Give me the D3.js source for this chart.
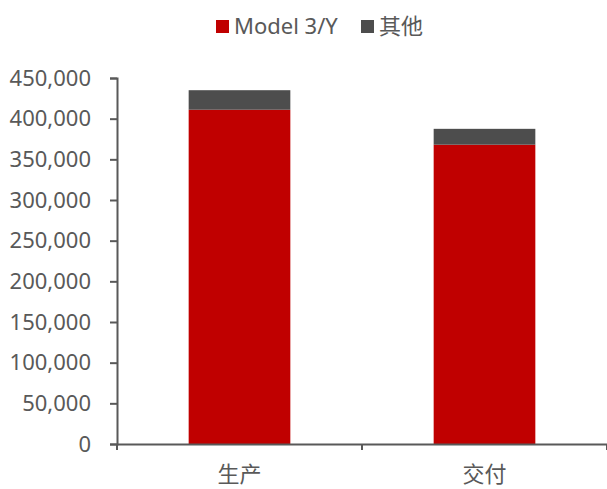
<!DOCTYPE html>
<html>
<head>
<meta charset="utf-8">
<script src="https://cdn.jsdelivr.net/npm/d3@7"></script>
<style>
  body { margin: 0; background: #fff; }
  svg text { font-family: "Noto Sans", "Noto Sans CJK SC", sans-serif; fill: #595959; }
</style>
</head>
<body>
<div class="chart-container"></div>
<script>
const categories = ['生产', '交付']
const seriesNames = ['Model 3/Y', '其他']
const model3y = [411000, 368000]
const others = [24000, 19500]
const yTicks = [0, 50000, 100000, 150000, 200000, 250000, 300000, 350000, 400000, 450000]
const colors = ['#C00000', '#4D4D4D']

const width = 607, height = 489
const margin = { top: 78, right: 0, bottom: 45, left: 117 }

const data = categories.map((c, i) => ({ cat: c, 'Model 3/Y': model3y[i], '其他': others[i] }))
const stacked = d3.stack().keys(seriesNames)(data)

const svg = d3.select('.chart-container').append('svg')
    .attr('width', width)
    .attr('height', height)

const x = d3.scaleBand()
    .domain(categories)
    .range([margin.left, width - margin.right])
    .paddingInner(0.585)
    .paddingOuter(0.2925)

const y = d3.scaleLinear()
    .domain([0, 450000])
    .range([height - margin.bottom, margin.top])

// bars
svg.append('g').selectAll('g')
    .data(stacked)
    .enter().append('g')
    .attr('fill', (d, i) => colors[i])
    .selectAll('rect')
    .data(d => d)
    .enter().append('rect')
    .attr('x', d => x(d.data.cat))
    .attr('y', d => y(d[1]))
    .attr('width', x.bandwidth())
    .attr('height', d => y(d[0]) - y(d[1]))

// y axis
const yAxis = svg.append('g')
    .attr('transform', `translate(${margin.left},0)`)
    .call(d3.axisLeft(y).tickValues(yTicks).tickFormat(d3.format(',')).tickSize(7).tickPadding(19))
yAxis.select('.domain').attr('stroke', '#595959').attr('stroke-width', 2)
yAxis.selectAll('.tick line').attr('stroke', '#595959').attr('stroke-width', 2)
yAxis.selectAll('text').attr('font-size', 22).style('font-family', '"Noto Sans", sans-serif').attr('fill', '#595959')

// x axis
const xAxis = svg.append('g')
    .attr('transform', `translate(0,${height - margin.bottom})`)
    .call(d3.axisBottom(x).tickSize(0).tickPadding(22))
xAxis.select('.domain').attr('stroke', '#595959').attr('stroke-width', 2)
xAxis.selectAll('text').attr('font-size', 22).style('font-family', '"Noto Sans CJK SC", sans-serif').attr('fill', '#595959')

// x boundary ticks
const bounds = [margin.left, margin.left + x.step(), margin.left + 2 * x.step()]
xAxis.selectAll('.bound')
    .data(bounds)
    .enter().append('line')
    .attr('x1', d => d).attr('x2', d => d)
    .attr('y1', 0).attr('y2', 6)
    .attr('stroke', '#595959').attr('stroke-width', 2)

// legend
const legendX = [216, 361]
const legend = svg.append('g')
legend.selectAll('rect')
    .data(seriesNames)
    .enter().append('rect')
    .attr('x', (d, i) => legendX[i])
    .attr('y', 20)
    .attr('width', 13)
    .attr('height', 13)
    .attr('fill', (d, i) => colors[i])
legend.selectAll('text')
    .data(seriesNames)
    .enter().append('text')
    .attr('x', (d, i) => legendX[i] + 18)
    .attr('y', 26.5)
    .attr('dy', '0.35em')
    .attr('font-size', 22)
    .text(d => d)
</script>
</body>
</html>
